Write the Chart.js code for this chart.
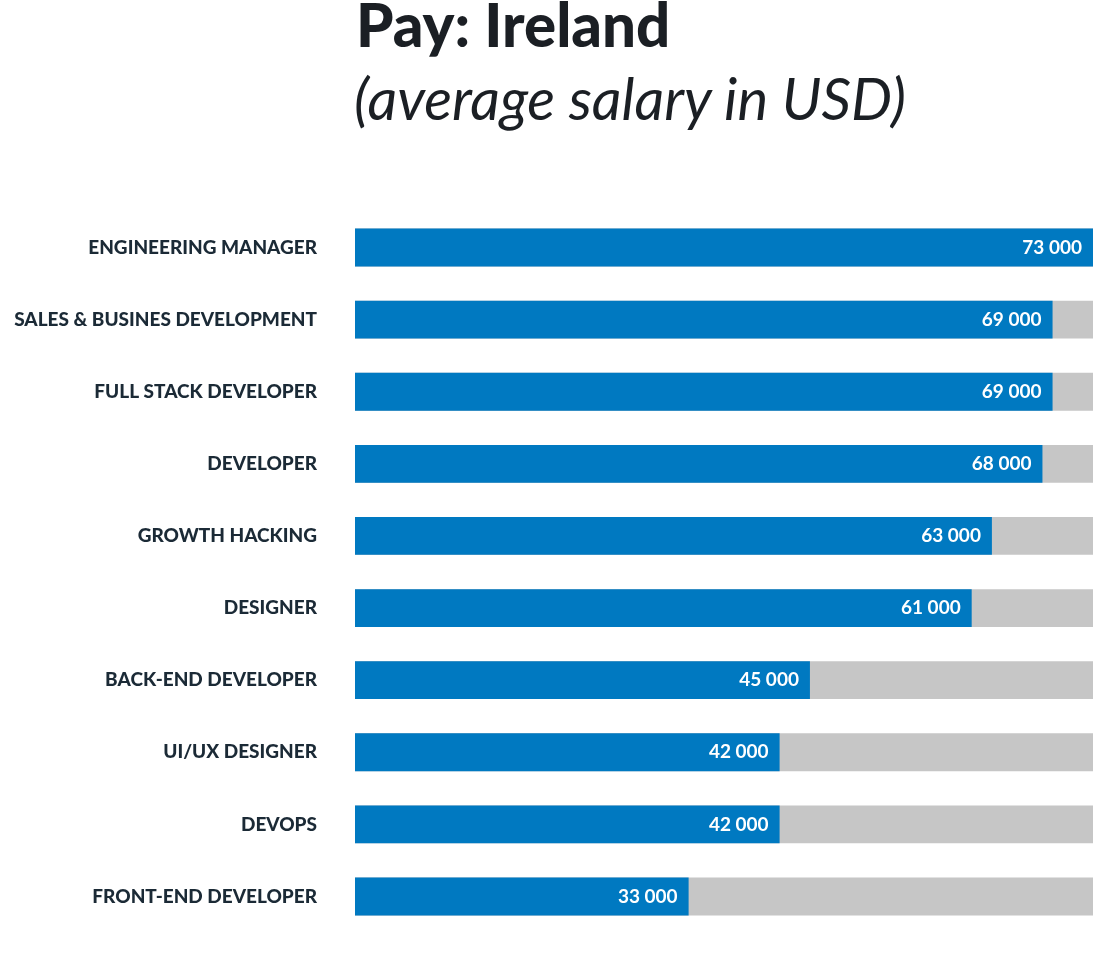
<!DOCTYPE html>
<html>
<head>
<meta charset="utf-8">
<script src="https://cdn.jsdelivr.net/npm/chart.js@4/dist/chart.umd.min.js"></script>
<style>
  html, body { margin: 0; padding: 0; background: #fff; overflow: hidden; width: 1094px; height: 963px; }
  .title { position: absolute; left: 356px; top: -10px; font-family: Lato, sans-serif; font-weight: 900; font-size: 60px; color: #1b1f24; line-height: 68px; }
  .sub { position: absolute; left: 354px; top: 64px; font-family: Lato, sans-serif; font-style: italic; font-size: 58px; color: #1b1f24; line-height: 68px; }
  #chart { position: absolute; left: 0; top: 162px; }
</style>
</head>
<body>
<div class="title">Pay: Ireland</div>
<div class="sub">(average salary in USD)</div>
<canvas id="chart" width="1094" height="820"></canvas>
<script>
// ---------------- Data ----------------
const roles = ['ENGINEERING MANAGER', 'SALES & BUSINES DEVELOPMENT', 'FULL STACK DEVELOPER', 'DEVELOPER',
  'GROWTH HACKING', 'DESIGNER', 'BACK-END DEVELOPER', 'UI/UX DESIGNER', 'DEVOPS', 'FRONT-END DEVELOPER'];
const salaries = [73000, 69000, 69000, 68000, 63000, 61000, 45000, 42000, 42000, 33000];
const maxSalary = 73000;
const track = roles.map(() => maxSalary);

// ---------------- Value labels ----------------
const valueLabels = {
  id: 'valueLabels',
  afterDatasetsDraw(chart) {
    const ctx = chart.ctx;
    const meta = chart.getDatasetMeta(0);
    ctx.save();
    ctx.font = 'bold 19px Lato, sans-serif';
    ctx.fillStyle = '#fff';
    ctx.textAlign = 'right';
    ctx.textBaseline = 'middle';
    meta.data.forEach((bar, i) => {
      const txt = salaries[i].toLocaleString('en-US').replace(',', ' ');
      ctx.fillText(txt, bar.x - 11, bar.y);
    });
    ctx.restore();
  }
};

new Chart(document.getElementById('chart'), {
  type: 'bar',
  data: {
    labels: roles,
    datasets: [
      { data: salaries, backgroundColor: '#0079c1', order: 0, grouped: false,
        barPercentage: 0.525, categoryPercentage: 1 },
      { data: track, backgroundColor: '#c6c6c6', order: 1, grouped: false,
        barPercentage: 0.525, categoryPercentage: 1 }
    ]
  },
  options: {
    indexAxis: 'y',
    responsive: false,
    animation: false,
    layout: { padding: { right: 1, top: 0, bottom: 0, left: 0 } },
    plugins: { legend: { display: false }, tooltip: { enabled: false } },
    scales: {
      x: { display: false, min: 0, max: maxSalary },
      y: {
        grid: { display: false, drawTicks: false },
        border: { display: false },
        ticks: { color: '#1b2a36', padding: 38, font: { family: 'Lato, sans-serif', weight: '900', size: 19 } },
        afterFit(scale) { scale.width = 355; }
      }
    }
  },
  plugins: [valueLabels]
});
</script>
</body>
</html>
